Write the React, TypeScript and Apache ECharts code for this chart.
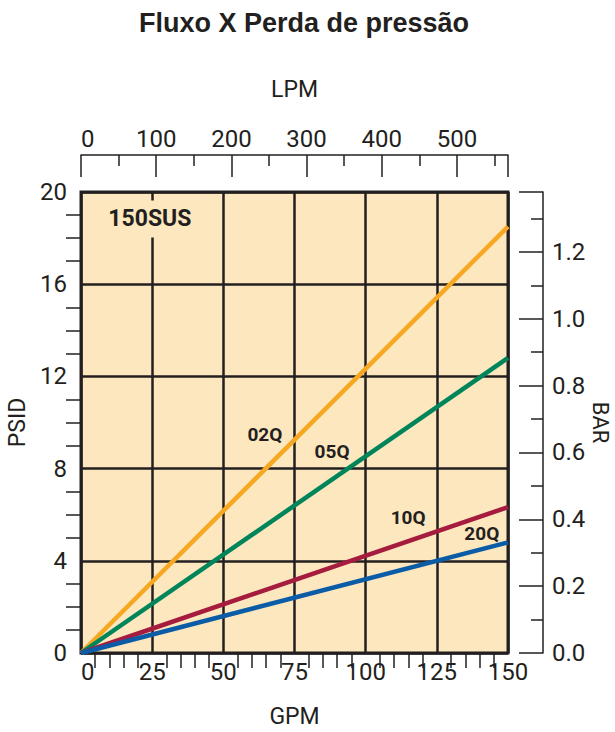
import React, { useEffect, useRef } from "react";
import * as echarts from "echarts";

const title = "Fluxo X Perda de pressão";
const seriesNames = ["02Q", "05Q", "10Q", "20Q"];
const gpmPoints = [0, 150];
const psid02Q = [0, 18.5];
const psid05Q = [0, 12.8];
const psid10Q = [0, 6.33];
const psid20Q = [0, 4.8];
const seriesColors = ["#F7A823", "#00855A", "#A51C3F", "#0B5CA6"];
const labelPos = [
  [64.6, 9.46],
  [88.2, 8.76],
  [114.9, 5.86],
  [140.8, 5.2],
];
const viscosityLabel = "150SUS";
const viscosityPos = [24.2, 18.83];

const INK = "#231F20";
const BG = "#FDE7BF";
const FONT = "Roboto, 'DejaVu Sans', sans-serif";

export default function App() {
  const ref = useRef<HTMLDivElement>(null);
  useEffect(() => {
    if (!ref.current) return;
    const chart = echarts.init(ref.current, null, { renderer: "svg" });
    const allPsid = [psid02Q, psid05Q, psid10Q, psid20Q];
    const lineSeries = allPsid.map((vals, i) => ({
      type: "line",
      name: seriesNames[i],
      data: gpmPoints.map((g, j) => [g, vals[j]]),
      symbol: "none",
      lineStyle: { color: seriesColors[i], width: 4.5 },
      z: 3,
    }));
    const labelSeries = {
      type: "scatter",
      symbolSize: 0,
      z: 5,
      itemStyle: { opacity: 1 },
      data: seriesNames.map((n, i) => ({ value: labelPos[i], name: n })),
      label: {
        show: true,
        position: "inside",
        formatter: (p: any) => p.name,
        color: INK,
        opacity: 1,
        fontSize: 19,
        fontWeight: "bold",
        fontFamily: FONT,
      },
    };
    const viscSeries = {
      type: "scatter",
      symbolSize: 0,
      z: 5,
      itemStyle: { opacity: 1 },
      data: [{ value: viscosityPos, name: viscosityLabel }],
      label: {
        show: true,
        position: "inside",
        formatter: (p: any) => p.name,
        color: INK,
        opacity: 1,
        fontSize: 23,
        fontWeight: "bold",
        fontFamily: FONT,
        backgroundColor: BG,
        padding: [7, 2],
      },
    };
    const axisLabel = { color: INK, fontSize: 24, fontFamily: FONT };
    const nameStyle = { color: INK, fontSize: 23, fontFamily: FONT };
    chart.setOption({
      animation: false,
      title: {
        text: title,
        left: 299,
        textAlign: "center",
        top: 4,
        textStyle: {
          color: INK,
          fontSize: 27,
          fontWeight: "bold",
          fontFamily: "'Liberation Sans', Arial, sans-serif",
        },
      },
      grid: {
        left: 81,
        right: 107,
        top: 192,
        bottom: 79,
        show: true,
        backgroundColor: BG,
        borderColor: INK,
        borderWidth: 3,
        containLabel: false,
        outerBoundsMode: "none",
      },
      xAxis: [
        {
          type: "value",
          position: "bottom",
          min: 0,
          max: 150,
          interval: 25,
          name: "GPM",
          nameLocation: "middle",
          nameGap: 52,
          nameTextStyle: nameStyle,
          axisLine: { show: false, onZero: false },
          axisTick: { show: false },
          minorTick: { show: true, splitNumber: 5, length: 15, lineStyle: { color: INK, width: 1.5 } },
          axisLabel: { ...axisLabel, margin: 7, alignMinLabel: "left" },
          splitLine: { show: true, lineStyle: { color: INK, width: 2.5 } },
        },
        {
          type: "value",
          position: "top",
          min: 0,
          max: 567.8,
          interval: 100,
          offset: 37,
          name: "LPM",
          nameLocation: "middle",
          nameGap: 54,
          nameTextStyle: nameStyle,
          axisLine: { show: true, onZero: false, lineStyle: { color: INK, width: 1.5 } },
          axisTick: { show: true, inside: true, length: 22, lineStyle: { color: INK, width: 1.5 } },
          minorTick: { show: true, splitNumber: 2, length: 11, lineStyle: { color: INK, width: 1.5 } },
          axisLabel: { ...axisLabel, margin: 4, showMaxLabel: false, alignMinLabel: "left" },
          splitLine: { show: false },
        },
      ],
      yAxis: [
        {
          type: "value",
          position: "left",
          min: 0,
          max: 20,
          interval: 4,
          name: "PSID",
          nameLocation: "middle",
          nameGap: 51,
          nameRotate: 90,
          nameTextStyle: nameStyle,
          axisLine: { show: false, onZero: false },
          axisTick: { show: false },
          minorTick: { show: true, splitNumber: 4, length: 15, lineStyle: { color: INK, width: 1.5 } },
          axisLabel: { ...axisLabel, margin: 14 },
          splitLine: { show: true, lineStyle: { color: INK, width: 2.5 } },
        },
        {
          type: "value",
          position: "right",
          min: 0,
          max: 1.379,
          interval: 0.2,
          offset: 35,
          name: "BAR",
          nameLocation: "middle",
          nameGap: 46,
          nameMoveOverlap: false,
          nameRotate: -90,
          nameTextStyle: { ...nameStyle, fontSize: 22 },
          axisLine: { show: true, onZero: false, lineStyle: { color: INK, width: 1.5 } },
          axisTick: { show: true, inside: true, length: 24, lineStyle: { color: INK, width: 1.5 } },
          minorTick: { show: true, splitNumber: 2, length: 12, lineStyle: { color: INK, width: 1.5 } },
          axisLabel: { ...axisLabel, margin: 9, showMaxLabel: false, formatter: (v: number) => v.toFixed(1) },
          splitLine: { show: false },
        },
      ],
      series: [...lineSeries, labelSeries, viscSeries],
    });
    return () => chart.dispose();
  }, []);
  return (
    <div
      ref={ref}
      style={{ position: "fixed", left: 0, top: 0, width: 615, height: 732, background: "#fff" }}
    />
  );
}
